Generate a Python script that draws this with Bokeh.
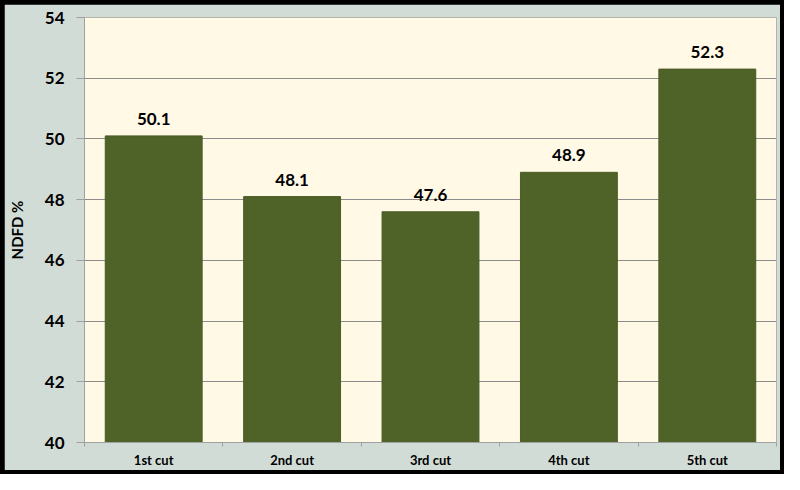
from bokeh.plotting import figure
from bokeh.layouts import column
from bokeh.models import FixedTicker, ColumnDataSource
from bokeh.core.properties import value
from bokeh.embed import file_html
from bokeh.resources import INLINE

cuts = ["1st cut", "2nd cut", "3rd cut", "4th cut", "5th cut"]
ndfd = [50.1, 48.1, 47.6, 48.9, 52.3]
yticks = [40, 42, 44, 46, 48, 50, 52, 54]

xpos = [i + 0.5 for i in range(len(cuts))]
src = ColumnDataSource(data=dict(x=xpos, y=ndfd, lab=[str(v) for v in ndfd]))

p = figure(width=776, height=466, x_range=(0, 5), y_range=(40, 54),
           output_backend="svg", toolbar_location=None,
           min_border_left=66, min_border_right=4, min_border_top=13, min_border_bottom=24)
p.margin = (4, 4, 4, 4)
p.background_fill_color = "#FFF9E6"
p.border_fill_color = "#D2DCD6"
p.outline_line_color = None

p.vbar(x="x", top="y", bottom=40, width=0.7, source=src,
       fill_color="#4F6228", line_color="#4A5C26")
p.text(x="x", y="y", text="lab", source=src, text_align="center", text_baseline="bottom",
       y_offset=-11, text_font_size="17px", text_font_style="bold", text_color="black",
       text_font=value("Lato"))

p.yaxis.ticker = FixedTicker(ticks=yticks)
p.yaxis.axis_label = "NDFD %"
p.yaxis.axis_label_text_font = "Lato"
p.yaxis.axis_label_text_font_size = "15px"
p.yaxis.axis_label_text_font_style = "bold"
p.yaxis.axis_label_text_color = "black"
p.yaxis.axis_label_standoff = 16
p.yaxis.major_label_text_font = "Lato"
p.yaxis.major_label_text_font_size = "17px"
p.yaxis.major_label_text_font_style = "bold"
p.yaxis.major_label_text_color = "black"
p.yaxis.major_label_standoff = 12
p.yaxis.major_tick_out = 8
p.yaxis.major_tick_in = 0
p.yaxis.minor_tick_line_color = None
p.yaxis.axis_line_color = "#A0A0A0"
p.yaxis.major_tick_line_color = "#A0A0A0"

p.xaxis.ticker = FixedTicker(ticks=xpos, minor_ticks=[0, 1, 2, 3, 4, 5])
p.xaxis.major_label_overrides = {x: c for x, c in zip(xpos, cuts)}
p.xaxis.major_label_text_font = "Lato"
p.xaxis.major_label_text_font_size = "13px"
p.xaxis.major_label_text_font_style = "bold"
p.xaxis.major_label_text_color = "black"
p.xaxis.major_label_standoff = 5
p.xaxis.major_tick_out = 0
p.xaxis.major_tick_in = 0
p.xaxis.minor_tick_out = 4
p.xaxis.minor_tick_in = 0
p.xaxis.axis_line_color = "#A0A0A0"
p.xaxis.minor_tick_line_color = "#A0A0A0"

p.xgrid.grid_line_color = None
p.ygrid.ticker = FixedTicker(ticks=yticks)
p.ygrid.grid_line_color = "#8C8C8C"
p.ygrid.grid_line_width = 1

page = column(p, styles={"background-color": "black"})
open("out.html", "w").write(file_html(page, INLINE))
